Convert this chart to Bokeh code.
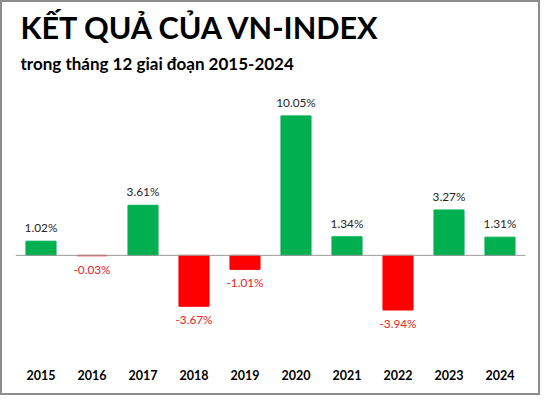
from bokeh.plotting import figure
from bokeh.models import ColumnDataSource, Span, Title, FactorRange, Range1d
from bokeh.embed import file_html
from bokeh.resources import INLINE
from bokeh.core.properties import value

years = ["2015", "2016", "2017", "2018", "2019", "2020", "2021", "2022", "2023", "2024"]
returns = [1.02, -0.03, 3.61, -3.67, -1.01, 10.05, 1.34, -3.94, 3.27, 1.31]
title_text = "KẾT QUẢ CỦA VN-INDEX"
subtitle_text = "trong tháng 12 giai đoạn 2015-2024"

GREEN = "#00B050"
RED = "#FF0000"

colors = [GREEN if v >= 0 else RED for v in returns]
labels = ["%.2f%%" % v for v in returns]

src = ColumnDataSource(dict(year=years, val=returns, color=colors, label=labels))
pos = ColumnDataSource(dict(
    year=[y for y, v in zip(years, returns) if v >= 0],
    val=[v for v in returns if v >= 0],
    label=[l for l, v in zip(labels, returns) if v >= 0]))
neg = ColumnDataSource(dict(
    year=[y for y, v in zip(years, returns) if v < 0],
    val=[v for v in returns if v < 0],
    label=[l for l, v in zip(labels, returns) if v < 0]))

FONT = "Lato"

p = figure(width=540, height=395, output_backend="svg", toolbar_location=None,
           x_range=FactorRange(*years, range_padding=0),
           y_range=Range1d(-7.505, 12.24),
           min_border_left=15, min_border_right=15, min_border_bottom=36,
           min_border_top=85, border_fill_color=None)
p.styles = {"background-color": "white", "box-shadow": "inset 0 0 0 2px #8c8c8c"}
p.outline_line_color = None
p.xgrid.visible = False
p.ygrid.visible = False
p.yaxis.visible = False

p.add_layout(Title(text=subtitle_text, text_font=FONT, text_font_size="17px",
                   text_font_style="bold", text_color="#000000", align="left",
                   offset=5, standoff=23), "above")
p.add_layout(Title(text=title_text, text_font=FONT, text_font_size="30.6px",
                   text_font_style="bold", text_color="#000000", align="left",
                   offset=5, standoff=-12), "above")

p.vbar(x="year", top="val", bottom=0, width=0.59, color="color", source=src)
p.add_layout(Span(location=0, dimension="width", line_color="#9A9A9A", line_width=1))

p.text(x="year", y="val", text="label", source=pos, text_align="center",
       text_baseline="bottom", y_offset=-6, text_font=value(FONT),
       text_font_size="11.8px", text_color="#262626")
p.text(x="year", y="val", text="label", source=neg, text_align="center",
       text_baseline="top", y_offset=6, text_font=value(FONT),
       text_font_size="11.8px", text_color="#E8231E")

ax = p.xaxis[0]
ax.axis_line_color = None
ax.major_tick_line_color = None
ax.minor_tick_line_color = None
ax.major_tick_out = 0
ax.major_tick_in = 0
ax.major_label_text_font = FONT
ax.major_label_text_font_style = "bold"
ax.major_label_text_font_size = "12.5px"
ax.major_label_text_color = "#000000"
ax.major_label_standoff = 10

open("out.html", "w").write(file_html(p, INLINE))
